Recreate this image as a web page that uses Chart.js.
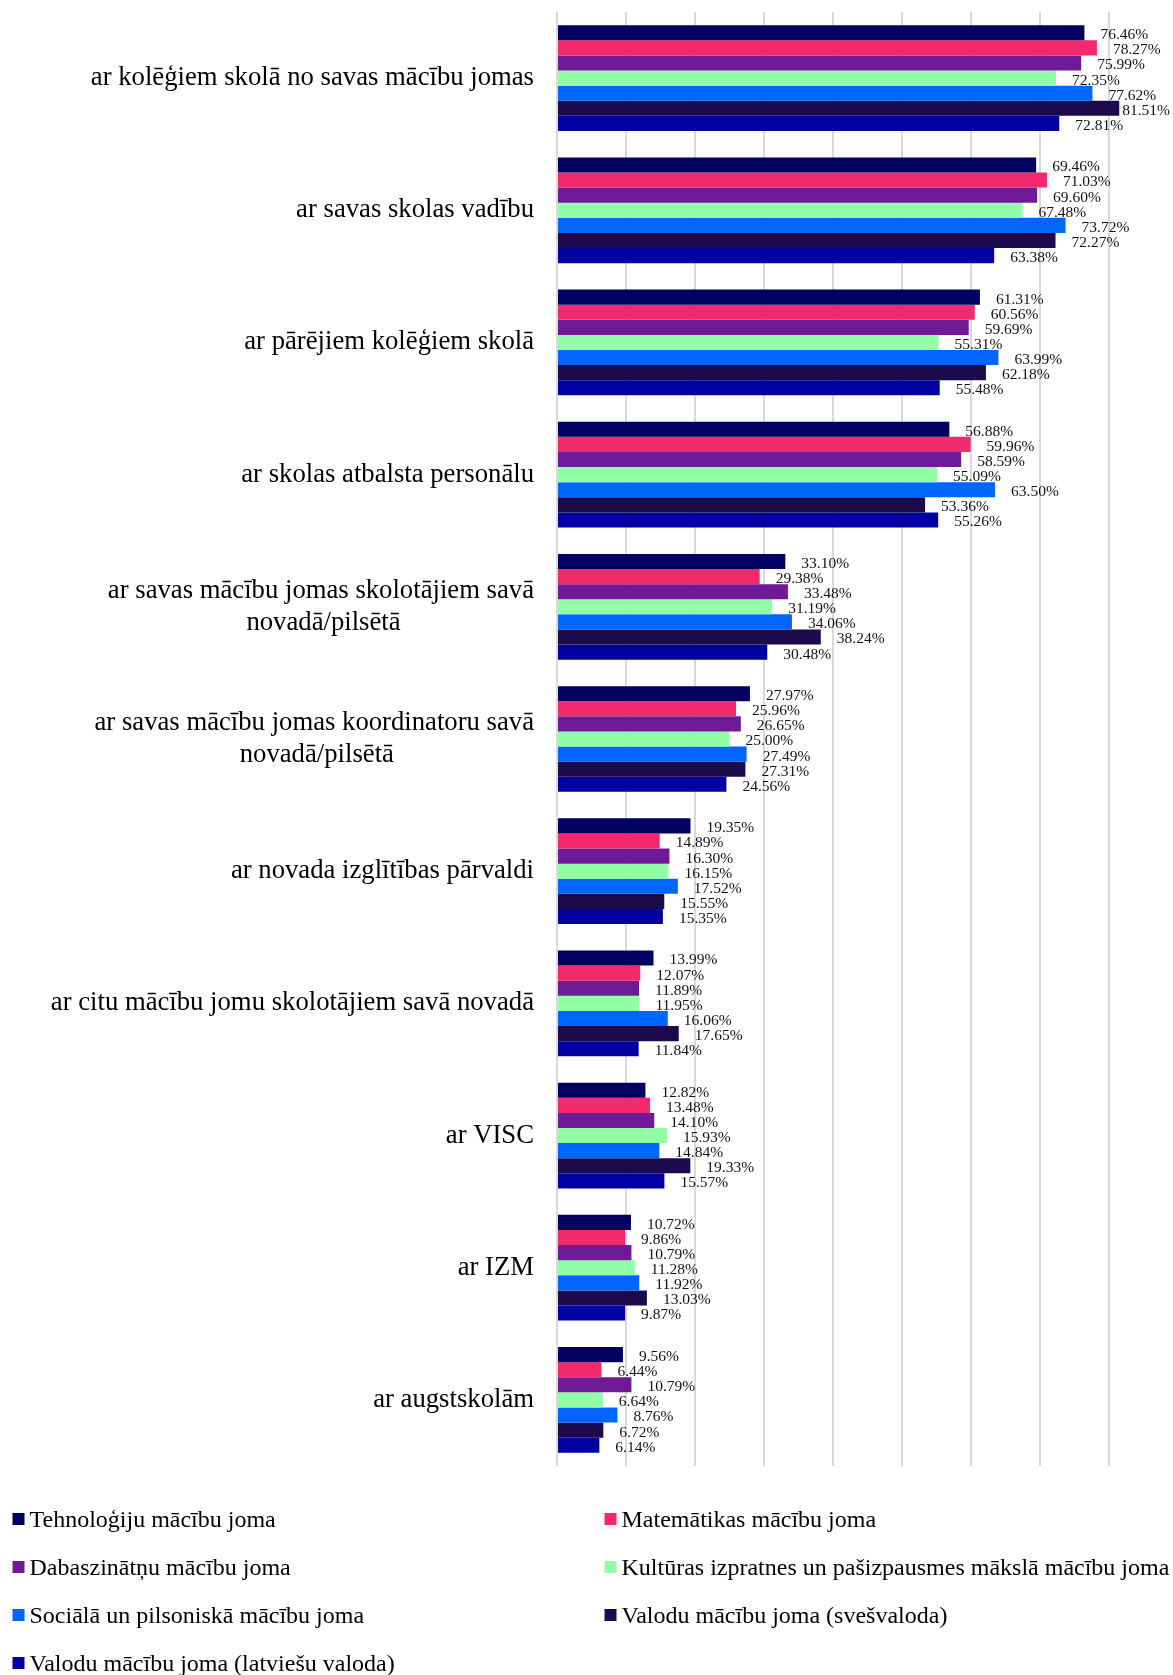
<!DOCTYPE html>
<html>
<head>
<meta charset="utf-8">
<script src="https://cdn.jsdelivr.net/npm/chart.js@4/dist/chart.umd.min.js"></script>
<style>
  html, body { margin: 0; padding: 0; background: #ffffff; overflow: hidden; }
  #wrap { position: relative; width: 1173px; height: 1675px; }
</style>
</head>
<body>
<div id="wrap"><canvas id="c"></canvas></div>
<script>
// ---- data ----
const categories = [
  "ar kolēģiem skolā no savas mācību jomas",
  "ar savas skolas vadību",
  "ar pārējiem kolēģiem skolā",
  "ar skolas atbalsta personālu",
  ["ar savas mācību jomas skolotājiem savā", "novadā/pilsētā"],
  ["ar savas mācību jomas koordinatoru savā", "novadā/pilsētā"],
  "ar novada izglītības pārvaldi",
  "ar citu mācību jomu skolotājiem savā novadā",
  "ar VISC",
  "ar IZM",
  "ar augstskolām"
];

const seriesNames = [
  "Tehnoloģiju mācību joma",
  "Matemātikas mācību joma",
  "Dabaszinātņu mācību joma",
  "Kultūras izpratnes un pašizpausmes mākslā mācību joma",
  "Sociālā un pilsoniskā mācību joma",
  "Valodu mācību joma (svešvaloda)",
  "Valodu mācību joma (latviešu valoda)"
];

const tehnologiju   = [76.46, 69.46, 61.31, 56.88, 33.10, 27.97, 19.35, 13.99, 12.82, 10.72, 9.56];
const matematikas   = [78.27, 71.03, 60.56, 59.96, 29.38, 25.96, 14.89, 12.07, 13.48, 9.86, 6.44];
const dabaszinatnu  = [75.99, 69.60, 59.69, 58.59, 33.48, 26.65, 16.30, 11.89, 14.10, 10.79, 10.79];
const kulturas      = [72.35, 67.48, 55.31, 55.09, 31.19, 25.00, 16.15, 11.95, 15.93, 11.28, 6.64];
const socialaa      = [77.62, 73.72, 63.99, 63.50, 34.06, 27.49, 17.52, 16.06, 14.84, 11.92, 8.76];
const svesvaloda    = [81.51, 72.27, 62.18, 53.36, 38.24, 27.31, 15.55, 17.65, 19.33, 13.03, 6.72];
const latviesu      = [72.81, 63.38, 55.48, 55.26, 30.48, 24.56, 15.35, 11.84, 15.57, 9.87, 6.14];

const seriesValues = [tehnologiju, matematikas, dabaszinatnu, kulturas, socialaa, svesvaloda, latviesu];
const seriesColors = ["#000060", "#F2296D", "#6F1A96", "#91FFA6", "#0066FF", "#1C0A4C", "#0000A3"];

// ---- styling ----
const SERIF = '"Liberation Serif", "Times New Roman", serif';
const CAT_FONT_SIZE = 26.7;
const VAL_FONT_SIZE = 15.5;
const LEG_FONT_SIZE = 24;

// center the lines of multi-line category labels under each other (right aligned block)
const mctx = document.createElement('canvas').getContext('2d');
mctx.font = CAT_FONT_SIZE + 'px ' + SERIF;
function centeredLines(lbl) {
  if (!Array.isArray(lbl)) return lbl;
  const widths = lbl.map(s => mctx.measureText(s).width);
  const maxW = Math.max(...widths);
  const sp = mctx.measureText(' ').width;
  return lbl.map((s, i) => {
    const n = Math.round((maxW - widths[i]) / 2 / sp);
    return s + ' '.repeat(n);
  });
}

// value labels plugin
const valueLabels = {
  id: 'valueLabels',
  afterDatasetsDraw(chart) {
    const ctx = chart.ctx;
    ctx.save();
    ctx.font = VAL_FONT_SIZE + 'px ' + SERIF;
    ctx.fillStyle = '#111111';
    ctx.textAlign = 'left';
    ctx.textBaseline = 'alphabetic';
    chart.data.datasets.forEach((ds, di) => {
      const meta = chart.getDatasetMeta(di);
      meta.data.forEach((bar, i) => {
        const txt = ds.data[i].toFixed(2) + '%';
        const w = ctx.measureText(txt).width;
        let x = bar.x + 16;
        if (x + w > chart.width - 3) x = chart.width - 3 - w;
        ctx.fillText(txt, x, bar.y + VAL_FONT_SIZE * 0.338 + 1.2);
      });
    });
    ctx.restore();
  }
};

// two-column legend plugin
const gridLegend = {
  id: 'gridLegend',
  afterDraw(chart) {
    const ctx = chart.ctx;
    const area = chart.chartArea;
    ctx.save();
    ctx.font = LEG_FONT_SIZE + 'px ' + SERIF;
    ctx.textAlign = 'left';
    ctx.textBaseline = 'alphabetic';
    const colX = [12.5, 604.5];
    const firstBaseline = area.bottom + 61;
    const rowGap = 48;
    chart.data.datasets.forEach((ds, i) => {
      const col = i % 2;
      const row = Math.floor(i / 2);
      const base = firstBaseline + row * rowGap;
      ctx.fillStyle = ds.backgroundColor;
      ctx.fillRect(colX[col], base - 14, 12, 12);
      ctx.fillStyle = '#000000';
      ctx.fillText(ds.label, colX[col] + 17, base);
    });
    ctx.restore();
  }
};

const datasets = seriesNames.map((name, i) => ({
  label: name,
  data: seriesValues[i],
  backgroundColor: seriesColors[i],
  borderWidth: 0,
  categoryPercentage: 0.8,
  barPercentage: 1.0
}));

new Chart(document.getElementById('c'), {
  type: 'bar',
  data: { labels: categories, datasets },
  plugins: [valueLabels, gridLegend],
  options: {
    indexAxis: 'y',
    responsive: true,
    maintainAspectRatio: false,
    animation: false,
    layout: { padding: { top: 12, bottom: 209, left: 0, right: 0 } },
    plugins: {
      legend: { display: false },
      tooltip: { enabled: false }
    },
    scales: {
      x: {
        type: 'linear',
        min: 0,
        max: 89.3,
        position: 'bottom',
        border: { display: false },
        grid: { color: '#d9d9d9', lineWidth: 2, drawTicks: false },
        ticks: { display: false, stepSize: 10 },
        afterBuildTicks(scale) {
          scale.ticks = scale.ticks.filter(t => Math.abs(t.value % 10) < 1e-9);
        },
        afterFit(scale) {
          scale.height = 0;
          scale.paddingLeft = 0; scale.paddingRight = 0;
        }
      },
      y: {
        type: 'category',
        border: { display: false },
        grid: { display: false, drawTicks: false },
        ticks: {
          padding: 23,
          color: '#000000',
          autoSkip: false,
          font: { family: SERIF, size: CAT_FONT_SIZE, lineHeight: 1.18 },
          callback(value) { return centeredLines(this.getLabelForValue(value)); }
        },
        afterFit(scale) {
          scale.width = 557;
          scale.paddingTop = 0; scale.paddingBottom = 0;
        }
      }
    }
  }
});
</script>
</body>
</html>
